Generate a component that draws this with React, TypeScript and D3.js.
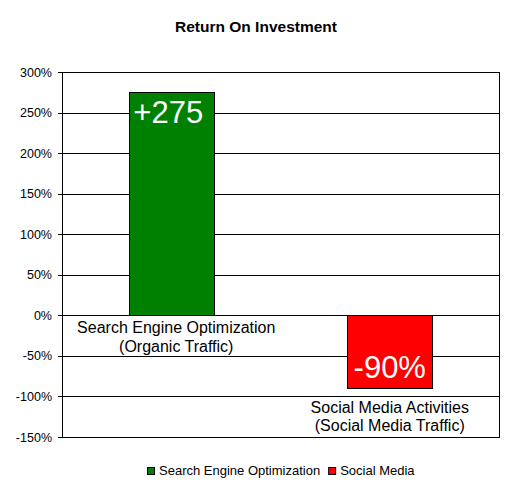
import { useRef, useEffect } from 'react';
import * as d3 from 'd3';

// Chart data
const CATEGORIES = ['Search Engine Optimization', 'Social Media'];
const CATEGORY_LABELS = [
  ['Search Engine Optimization', '(Organic Traffic)'],
  ['Social Media Activities', '(Social Media Traffic)'],
];
const VALUES = [2.75, -0.9];
const BAR_TEXT = ['+275', '-90%'];
const COLORS = ['#008000', '#FF0000'];
const Y_TICKS = [3, 2.5, 2, 1.5, 1, 0.5, 0, -0.5, -1, -1.5];

const WIDTH = 511;
const HEIGHT = 488;
const FONT = '"Liberation Sans", Arial, sans-serif';

export default function App() {
  const svgRef = useRef<SVGSVGElement>(null);

  useEffect(() => {
    if (!svgRef.current) return;
    const svg = d3.select(svgRef.current);
    svg.selectAll('*').remove();

    const left = 62;
    const right = 499;
    const top = 72;
    const bottom = 437;

    const x = d3.scaleBand<string>()
      .domain(CATEGORIES)
      .range([left, right])
      .paddingInner(0.61)
      .paddingOuter(0.305);

    const y = d3.scaleLinear()
      .domain([-1.5, 3])
      .range([bottom, top]);

    // Title
    svg.append('text')
      .attr('x', 256)
      .attr('y', 32)
      .attr('text-anchor', 'middle')
      .attr('font-family', FONT)
      .attr('font-size', '15.5px')
      .attr('font-weight', 'bold')
      .attr('fill', '#000')
      .text('Return On Investment');

    // Gridlines
    svg.append('g')
      .selectAll('line')
      .data(Y_TICKS)
      .join('line')
      .attr('x1', left - 4)
      .attr('x2', right)
      .attr('y1', d => Math.round(y(d)) + 0.5)
      .attr('y2', d => Math.round(y(d)) + 0.5)
      .attr('stroke', '#000')
      .attr('stroke-width', 1);

    // Plot border sides
    svg.append('line')
      .attr('x1', left + 0.5).attr('x2', left + 0.5)
      .attr('y1', y(3)).attr('y2', y(-1.5) + 1)
      .attr('stroke', '#000');
    svg.append('line')
      .attr('x1', right + 0.5).attr('x2', right + 0.5)
      .attr('y1', y(3)).attr('y2', y(-1.5) + 1)
      .attr('stroke', '#000');

    // Y tick labels (plain hyphen for negatives, like the original)
    svg.append('g')
      .selectAll('text')
      .data(Y_TICKS)
      .join('text')
      .attr('x', left - 10)
      .attr('y', d => y(d) + 4.5)
      .attr('text-anchor', 'end')
      .attr('font-family', FONT)
      .attr('font-size', '12.5px')
      .attr('fill', '#000')
      .text(d => `${Math.round(d * 100)}%`);

    // Bars
    const bars = svg.append('g')
      .selectAll('g')
      .data(CATEGORIES)
      .join('g');

    bars.append('rect')
      .attr('x', d => Math.round(x(d)!) + 0.5)
      .attr('y', (d, i) => Math.round(y(Math.max(0, VALUES[i]))) + 0.5)
      .attr('width', Math.round(x.bandwidth()))
      .attr('height', (d, i) => Math.round(Math.abs(y(VALUES[i]) - y(0))))
      .attr('fill', (d, i) => COLORS[i])
      .attr('stroke', '#000')
      .attr('stroke-width', 1);

    // Value labels inside bars
    bars.append('text')
      .attr('x', d => x(d)! + x.bandwidth() / 2 - (d === CATEGORIES[0] ? 3 : 0))
      .attr('y', (d, i) => VALUES[i] > 0 ? y(VALUES[i]) + 31 : y(VALUES[i]) - 10.5)
      .attr('text-anchor', 'middle')
      .attr('font-family', FONT)
      .attr('font-size', '31px')
      .attr('fill', '#fff')
      .text((d, i) => BAR_TEXT[i]);

    // Category labels
    bars.each(function (d, i) {
      const base = VALUES[i] >= 0 ? y(0) + 18 : y(VALUES[i]) + 24.5;
      const cx = x(d)! + x.bandwidth() / 2 + (VALUES[i] >= 0 ? 5 : 0);
      d3.select(this)
        .selectAll('text.cat')
        .data(CATEGORY_LABELS[i])
        .join('text')
        .attr('class', 'cat')
        .attr('x', cx)
        .attr('y', (t, j) => base + j * 18.5)
        .attr('text-anchor', 'middle')
        .attr('font-family', FONT)
        .attr('font-size', '16px')
        .attr('fill', '#000')
        .text(t => t);
    });

    // Legend
    const legend = svg.append('g').attr('transform', 'translate(147,467)');
    let lx = 0;
    CATEGORIES.forEach((c, i) => {
      const item = legend.append('g').attr('transform', `translate(${lx},0)`);
      item.append('rect')
        .attr('x', 0.5)
        .attr('y', 0.5)
        .attr('width', 7)
        .attr('height', 7)
        .attr('fill', COLORS[i])
        .attr('stroke', '#000');
      const t = item.append('text')
        .attr('x', 12)
        .attr('y', 8)
        .attr('font-family', FONT)
        .attr('font-size', '13px')
        .attr('fill', '#000')
        .text(c);
      const w = (t.node() as SVGTextElement).getComputedTextLength();
      lx += 12 + w + 8;
    });
  }, []);

  return (
    <svg
      ref={svgRef}
      width={WIDTH}
      height={HEIGHT}
      style={{ position: 'absolute', left: 0, top: 0, background: '#fff' }}
    />
  );
}
